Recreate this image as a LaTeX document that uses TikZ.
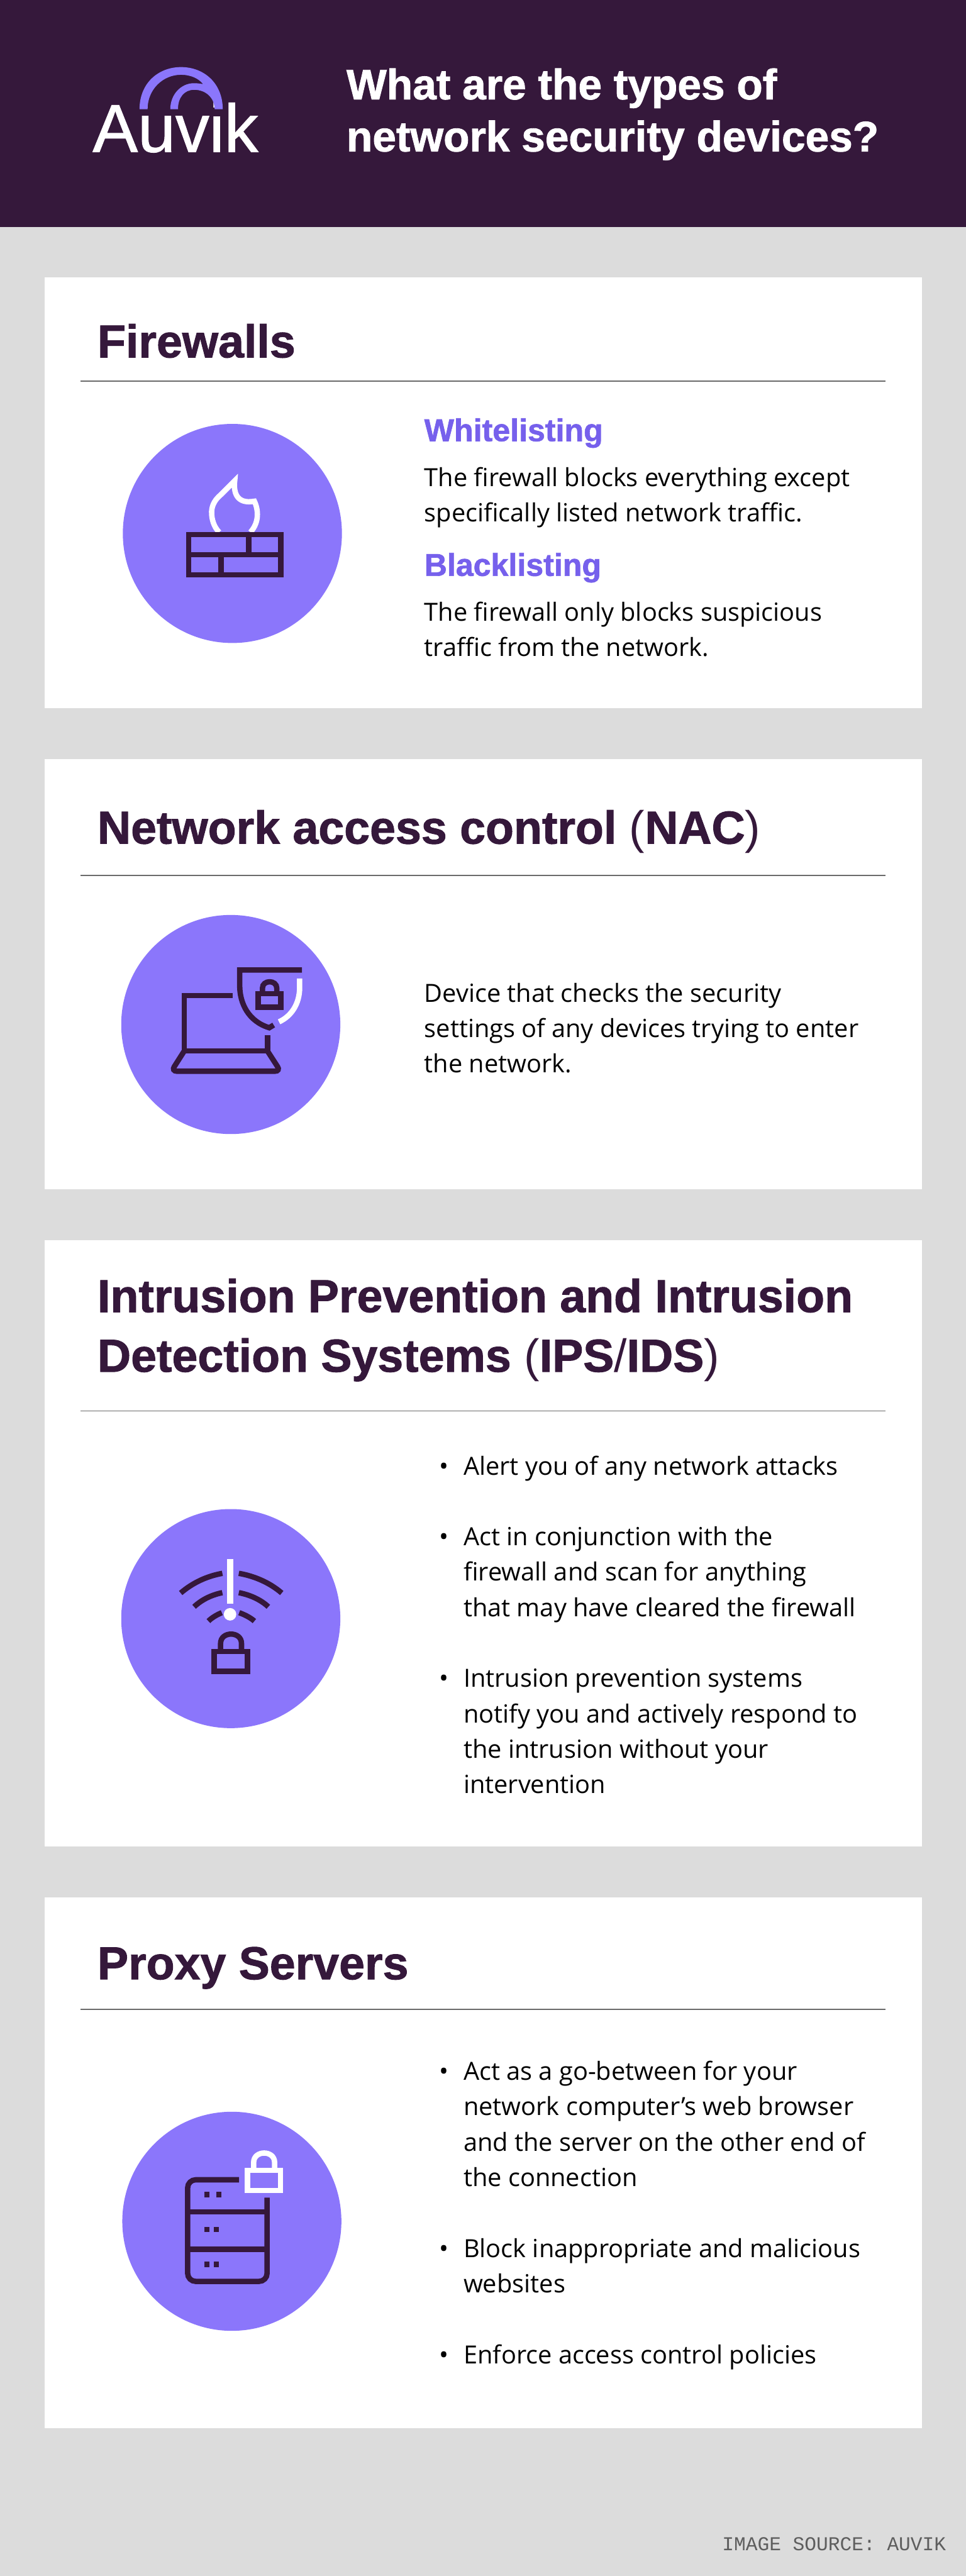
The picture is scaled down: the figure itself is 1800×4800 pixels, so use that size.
\documentclass[tikz,border=0pt]{standalone}
\usepackage{fontspec}
\usepackage{tikz}
\setmainfont{Open Sans}
\newfontfamily\headfont[BoldFeatures={FakeBold=1.3}]{Liberation Sans}
\newfontfamily\logofont[FakeBold=1]{Liberation Sans}
\newfontfamily\footfont{Liberation Mono}
\definecolor{auvikdark}{HTML}{35183B}
\definecolor{auvikpurple}{HTML}{8B76FB}
\definecolor{auvikviolet}{HTML}{7660EC}
\definecolor{pagegray}{HTML}{DCDCDC}
\definecolor{rulegray}{HTML}{6A6A6A}
\definecolor{footgray}{HTML}{5E5E5E}
\newcommand{\padlock}[4]{%
	\begin{scope}[shift={(#1,#2)},scale=#4]
		\draw[#3] (0,0) rectangle (185,111);
		\draw[#3] (35,0) -- (35,-45) .. controls (35,-115) and (152,-115) .. (152,-45) -- (152,0);
	\end{scope}}

\begin{document}
\begin{tikzpicture}[x=0.01cm,y=-0.01cm]
		\tikzstyle{title_text} = [anchor=base west, align=left, inner sep=0pt, text=white, font=\headfont\bfseries\fontsize{22.55}{27.6}\selectfont]
		\tikzstyle{heading_text} = [anchor=base west, align=left, inner sep=0pt, text=auvikdark, font=\headfont\bfseries\fontsize{24.5}{31.6}\selectfont]
		\tikzstyle{sub_text} = [anchor=base west, inner sep=0pt, text=auvikviolet, font=\headfont\bfseries\fontsize{16.7}{20}\selectfont]
		\tikzstyle{body_text} = [anchor=base west, align=left, inner sep=0pt, text=black, font=\fontsize{13.25}{18.78}\selectfont]
		\tikzstyle{icon_disc} = [circle, fill=auvikpurple, minimum size=4.08cm, inner sep=0pt]
		\tikzstyle{dark_line} = [draw=auvikdark, line width=1mm]
		\tikzstyle{light_line} = [draw=white, line width=1mm]
		\tikzstyle{card_box} = [fill=white]
		\tikzstyle{card_rule} = [draw=rulegray, line width=0.22mm]

		% Page and header band
		\useasboundingbox (0,0) rectangle (1800,4800);
		\fill[pagegray] (0,0) rectangle (1800,4800);
		\fill[auvikdark] (0,0) rectangle (1800,423);

		% Logo
		\node (logoword) [anchor=base west, inner sep=0pt, text=white, font=\logofont\fontsize{35.85}{36}\selectfont] at (172,283) {Auvik};
		\begin{scope}[shift={(120,110)},scale=1/3]
			\fill[auvikdark] (830,270) rectangle (895,322);
			\fill[auvikpurple] (420,280) .. controls (420,135) and (525,45) .. (652,45) .. controls (780,45) and (885,135) .. (885,280) -- (840,280) .. controls (838,215) and (790,172) .. (725,172) .. controls (670,172) and (635,215) .. (635,280) -- (592,280) .. controls (592,200) and (650,135) .. (725,135) .. controls (745,135) and (760,138) .. (775,140) .. controls (750,108) and (705,88) .. (652,88) .. controls (550,88) and (465,170) .. (465,280) -- cycle;
		\end{scope}
		\node (title) [title_text] at (645,282) {What are the types of\\network security devices?};

		% Cards
		\fill[card_box] (83,517) rectangle (1718,1319);
		\fill[card_box] (83,1414) rectangle (1718,2216);
		\fill[card_box] (83,2311) rectangle (1718,3441);
		\fill[card_box] (83,3536) rectangle (1718,4525);
		\foreach \y in {710,1631,2629,3744}
		\draw[card_rule] (150,\y) -- (1650,\y);

		% Firewalls
		\node (fwhead) [heading_text] at (181,666) {Firewalls};
		\node (fwsubA) [sub_text] at (790,822) {Whitelisting};
		\node (fwtextA) [body_text] at (790,972) {The firewall blocks everything except\\specifically listed network traffic.};
		\node (fwsubB) [sub_text] at (790,1073) {Blacklisting};
		\node (fwtextB) [body_text] at (790,1223) {The firewall only blocks suspicious\\traffic from the network.};
		\node (fwdisc) [icon_disc] at (433,994) {};
		\begin{scope}[shift={(200,770)},scale=1/3]
			% Flame
			\draw[light_line] (625,665) .. controls (595,635) and (582,590) .. (583,550) .. controls (585,510) and (605,480) .. (635,455) -- (712,378) .. controls (705,440) and (720,510) .. (822,492) .. controls (845,540) and (850,610) .. (800,665);
			% Wall
			\draw[dark_line] (454,678) rectangle (970,904);
			\draw[dark_line] (454,790) -- (970,790);
			\draw[dark_line] (790,678) -- (790,790);
			\draw[dark_line] (635,790) -- (635,904);
		\end{scope}

		% Network access control
		\node (nachead) [heading_text] at (181,1572) {Network access control {\mdseries(}NAC{\mdseries)}};
		\node (nactext) [body_text] at (790,1999) {Device that checks the security\\settings of any devices trying to enter\\the network.};
		\node (nacdisc) [icon_disc] at (430,1909) {};
		\begin{scope}[shift={(200,1680)},scale=1/3]
			% Laptop
			\draw[dark_line] (700,525) -- (430,525) -- (430,835) -- (895,835) -- (895,745);
			\draw[dark_line, rounded corners=1mm] (430,835) -- (358,948) -- (968,948) -- (895,835);
			% Shield
			\draw[dark_line] (1088,382) -- (740,382) -- (740,470) .. controls (740,570) and (790,670) .. (905,705) -- (930,690);
			\draw[light_line] (1075,430) -- (1075,480) .. controls (1075,570) and (1030,640) .. (960,672);
			\padlock{843}{515}{dark_line}{0.686}
		\end{scope}

		% Intrusion systems
		\node (idshead) [heading_text] at (181,2556) {Intrusion Prevention and Intrusion\\Detection Systems {\mdseries(}IPS{\mdseries/}IDS{\mdseries)}};
		\node (idsdotA) [body_text] at (818,2749) {•};
		\node (idstextA) [body_text] at (863,2749) {Alert you of any network attacks};
		\node (idsdotB) [body_text] at (818,2880) {•};
		\node (idstextB) [body_text] at (863,3012) {Act in conjunction with the\\firewall and scan for anything\\that may have cleared the firewall};
		\node (idsdotC) [body_text] at (818,3144) {•};
		\node (idstextC) [body_text] at (863,3342) {Intrusion prevention systems\\notify you and actively respond to\\the intrusion without your\\intervention};
		\node (idsdisc) [icon_disc] at (430,3016) {};
		\begin{scope}[shift={(200,2790)},scale=1/3]
			% Signal arcs
			\draw[dark_line] (410,535) .. controls (480,475) and (560,440) .. (643,425);
			\draw[dark_line] (975,535) .. controls (905,475) and (820,440) .. (735,425);
			\draw[dark_line] (485,612) .. controls (530,570) and (585,545) .. (643,533);
			\draw[dark_line] (900,612) .. controls (855,570) and (795,545) .. (735,533);
			\draw[dark_line] (565,692) .. controls (585,672) and (615,655) .. (640,645);
			\draw[dark_line] (822,692) .. controls (800,672) and (765,655) .. (737,645);
			% Warning mark
			\fill[white] (670,344) rectangle (703,595);
			\fill[white] (686,654) circle [radius=35];
			\padlock{598}{862}{dark_line}{1}
		\end{scope}

		% Proxy servers
		\node (proxhead) [heading_text] at (181,3688) {Proxy Servers};
		\node (proxdotA) [body_text] at (818,3876) {•};
		\node (proxtextA) [body_text] at (863,4074) {Act as a go-between for your\\network computer’s web browser\\and the server on the other end of\\the connection};
		\node (proxdotB) [body_text] at (818,4206) {•};
		\node (proxtextB) [body_text] at (863,4272) {Block inappropriate and malicious\\websites};
		\node (proxdotC) [body_text] at (818,4405) {•};
		\node (proxtextC) [body_text] at (863,4405) {Enforce access control policies};
		\node (proxdisc) [icon_disc] at (432,4139) {};
		\begin{scope}[shift={(200,3910)},scale=1/3]
			% Server rack
			\draw[dark_line, rounded corners=1.5mm] (736,455) -- (449,455) -- (449,1023) -- (893,1023) -- (893,555);
			\foreach \y in {635,843}
			\draw[dark_line] (449,\y) -- (893,\y);
			\foreach \x/\y in {557/538,624/538,557/733,611/733,557/927,611/927}
			\fill[auvikdark] (\x-14,\y-15) rectangle +(28,30);
			\padlock{783}{403}{light_line}{1}
		\end{scope}

		% Source line
		\node (source) [anchor=base west, inner sep=0pt, text=footgray, font=\footfont\fontsize{10.4}{12}\selectfont] at (1345,4752) {IMAGE SOURCE: AUVIK};
	\end{tikzpicture}
\end{document}
